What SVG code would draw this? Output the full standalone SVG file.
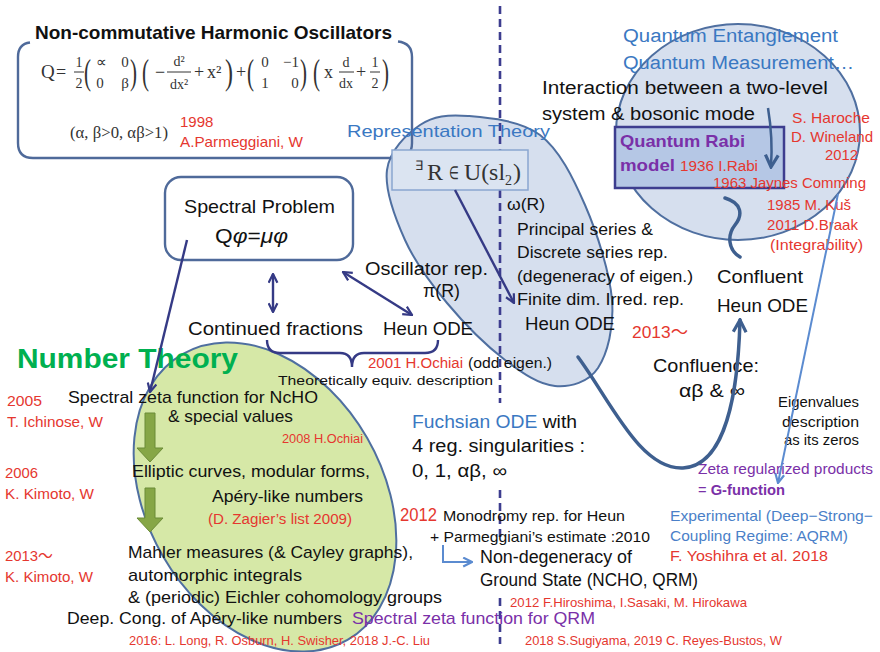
<svg xmlns="http://www.w3.org/2000/svg" width="880" height="652" viewBox="0 0 880 652">
<style>
text{font-family:"Liberation Sans",Arial,"Noto Sans CJK JP",sans-serif;fill:#111}
.r{fill:#e5372f}
.bl{fill:#3a78c2}
.pu{fill:#7a30a8}
.gr{fill:#00b050;font-weight:bold}
.m{font-family:"Liberation Serif","Times New Roman",serif;fill:#333}
.bp{font-family:"Liberation Serif","Times New Roman",serif;fill:#333;font-size:36px}
.fl{stroke:#333;stroke-width:1}
.blob{fill:#d6dfee;stroke:#4f6fa0;stroke-width:2}
.box{fill:none;stroke:#4f6a9a;stroke-width:2.4}
.nv{fill:none;stroke:#353a85;stroke-width:2.4}
.th{fill:none;stroke:#3e5f8f;stroke-width:3.5;stroke-linecap:round}
.lb{fill:none;stroke:#5b8bd0;stroke-width:2}
.dash{stroke:#3d3d8f;stroke-width:2.6;stroke-dasharray:8 5}
.garrow{fill:#86a646;stroke:#6b8b36;stroke-width:1}
.xb{fill:#4a7fc8}
</style>
<defs>
<marker id="an" viewBox="0 0 10 10" refX="9" refY="5" markerWidth="11" markerHeight="11" markerUnits="userSpaceOnUse" orient="auto-start-reverse"><path d="M1,1 L9,5 L1,9" fill="none" stroke="#353a85" stroke-width="2"/></marker>
<marker id="at" viewBox="0 0 10 10" refX="8.5" refY="5" markerWidth="16" markerHeight="16" markerUnits="userSpaceOnUse" orient="auto"><path d="M1,1 L8.5,5 L1,9" fill="none" stroke="#3e5f8f" stroke-width="2"/></marker>
<marker id="al" viewBox="0 0 10 10" refX="9" refY="5" markerWidth="11" markerHeight="11" markerUnits="userSpaceOnUse" orient="auto"><path d="M1,1 L9,5 L1,9" fill="none" stroke="#5b8bd0" stroke-width="2"/></marker>
</defs>
<rect width="880" height="652" fill="#fff"/>

<!-- background shapes -->
<g id="number-theory-ellipse">
<ellipse cx="265" cy="497" rx="165" ry="118" transform="rotate(60 265 497)" fill="#d6e8a7" stroke="#4f6fa0" stroke-width="2"/>
</g>
<g id="representation-theory">
<path class="blob" d="M468,116 C488,117.7 520.5,120.2 540,135 C559.5,149.8 573,177.5 585,205 C597,232.5 609.8,272.8 612,300 C614.2,327.2 607.5,353.7 598,368 C588.5,382.3 570.5,387.3 555,386 C539.5,384.7 523,373.8 505,360 C487,346.2 463.7,323 447,303 C430.3,283 415,262.2 405,240 C395,217.8 384.5,189.2 387,170 C389.5,150.8 406.5,134 420,125 C433.5,116 448,114.3 468,116 Z"/>
</g>
<g id="quantum-circle">
<ellipse class="blob" cx="738" cy="132" rx="122" ry="108"/>
</g>

<!-- Non-commutative harmonic oscillators box -->
<g id="ncho">
<path class="box" d="M30,42.5 Q18,44 18,57 L18,143 Q18,158 33,158 L397,158 Q412,158 412,143 L412,57 Q412,43 398,41.5"/>
<text x="35" y="39" font-size="19" font-weight="bold" textLength="357" lengthAdjust="spacingAndGlyphs">Non-commutative Harmonic Oscillators</text>
<text class="m" x="41" y="78" font-size="19">Q</text>
<text class="m" x="56" y="78" font-size="18">=</text>
<text class="m" x="79" y="67" font-size="14" text-anchor="middle">1</text>
<line class="fl" x1="74" y1="72" x2="84" y2="72"/>
<text class="m" x="79" y="88" font-size="14" text-anchor="middle">2</text>
<text class="bp" x="84" y="84" textLength="7" lengthAdjust="spacingAndGlyphs">(</text>
<text class="m" x="101" y="67" font-size="15" text-anchor="middle">∝</text>
<text class="m" x="125" y="67" font-size="15" text-anchor="middle">0</text>
<text class="m" x="100" y="88" font-size="15" text-anchor="middle">0</text>
<text class="m" x="125" y="88" font-size="15" text-anchor="middle">β</text>
<text class="bp" x="130" y="84" textLength="7" lengthAdjust="spacingAndGlyphs">)</text>
<text class="bp" x="142" y="84" textLength="7" lengthAdjust="spacingAndGlyphs">(</text>
<text class="m" x="160" y="78" font-size="18" text-anchor="middle">−</text>
<text class="m" x="179" y="66" font-size="14" text-anchor="middle">d²</text>
<line class="fl" x1="167" y1="72" x2="191" y2="72"/>
<text class="m" x="179" y="89" font-size="14" text-anchor="middle">dx²</text>
<text class="m" x="199" y="78" font-size="18" text-anchor="middle">+</text>
<text class="m" x="207" y="78" font-size="18">x²</text>
<text class="bp" x="225" y="84" textLength="8" lengthAdjust="spacingAndGlyphs">)</text>
<text class="m" x="241" y="78" font-size="18" text-anchor="middle">+</text>
<text class="bp" x="247" y="84" textLength="7" lengthAdjust="spacingAndGlyphs">(</text>
<text class="m" x="265" y="67" font-size="15" text-anchor="middle">0</text>
<text class="m" x="291" y="67" font-size="15" text-anchor="middle">−1</text>
<text class="m" x="265" y="88" font-size="15" text-anchor="middle">1</text>
<text class="m" x="295" y="88" font-size="15" text-anchor="middle">0</text>
<text class="bp" x="300" y="84" textLength="7" lengthAdjust="spacingAndGlyphs">)</text>
<text class="bp" x="313" y="84" textLength="7" lengthAdjust="spacingAndGlyphs">(</text>
<text class="m" x="324" y="78" font-size="18">x</text>
<text class="m" x="346" y="67" font-size="14" text-anchor="middle">d</text>
<line class="fl" x1="339" y1="72" x2="354" y2="72"/>
<text class="m" x="346" y="88" font-size="14" text-anchor="middle">dx</text>
<text class="m" x="361" y="78" font-size="18" text-anchor="middle">+</text>
<text class="m" x="375" y="67" font-size="14" text-anchor="middle">1</text>
<line class="fl" x1="370" y1="72" x2="380" y2="72"/>
<text class="m" x="375" y="88" font-size="14" text-anchor="middle">2</text>
<text class="bp" x="382" y="84" textLength="7" lengthAdjust="spacingAndGlyphs">)</text>
<text class="m" x="70" y="138" font-size="17" textLength="98" lengthAdjust="spacingAndGlyphs">(α, β&gt;0, αβ&gt;1)</text>
<text class="r" x="180" y="127" font-size="15">1998</text>
<text class="r" x="180" y="147" font-size="15" textLength="123" lengthAdjust="spacingAndGlyphs">A.Parmeggiani, W</text>
</g>

<!-- dashed divider -->
<g id="divider">
<line class="dash" x1="500" y1="6" x2="500" y2="150"/>
<line class="dash" x1="500" y1="190" x2="500" y2="403"/>
<line class="dash" x1="500" y1="490" x2="500" y2="542"/>
<line class="dash" x1="500" y1="598" x2="500" y2="644"/>
</g>

<g id="rep-box">
<rect x="392" y="150" width="136" height="40" fill="#dbe4f1" stroke="#8aa6d0" stroke-width="1.5"/>
<text class="m" x="415" y="170" font-size="13">∃</text>
<text class="m" x="427" y="180" font-size="24">R</text>
<text class="m" x="449" y="179" font-size="18" textLength="10" lengthAdjust="spacingAndGlyphs">∈</text>
<text class="m" x="464" y="180" font-size="24" textLength="41" lengthAdjust="spacingAndGlyphs">U(sl</text>
<text class="m" x="505" y="185" font-size="14">2</text>
<text class="m" x="513" y="180" font-size="24">)</text>
</g>

<g id="rep-labels">
<text class="bl" x="347" y="137" font-size="17" textLength="203" lengthAdjust="spacingAndGlyphs">Representation Theory</text>
<text x="507" y="210" font-size="17" textLength="38" lengthAdjust="spacingAndGlyphs">ω(R)</text>
<text x="517" y="235" font-size="16" textLength="136" lengthAdjust="spacingAndGlyphs">Principal series &amp;</text>
<text x="517" y="258" font-size="16" textLength="151" lengthAdjust="spacingAndGlyphs">Discrete series rep.</text>
<text x="517" y="282" font-size="16" textLength="176" lengthAdjust="spacingAndGlyphs">(degeneracy of eigen.)</text>
<text x="517" y="305" font-size="16" textLength="167" lengthAdjust="spacingAndGlyphs">Finite dim. Irred. rep.</text>
<text x="525" y="330" font-size="18" textLength="90" lengthAdjust="spacingAndGlyphs">Heun ODE</text>
</g>

<g id="quantum-labels">
<text class="bl" x="623" y="42" font-size="18" textLength="215" lengthAdjust="spacingAndGlyphs">Quantum Entanglement</text>
<text class="bl" x="623" y="69" font-size="18" textLength="231" lengthAdjust="spacingAndGlyphs">Quantum Measurement…</text>
<text x="542" y="94" font-size="18" textLength="286" lengthAdjust="spacingAndGlyphs">Interaction between a two-level</text>
<text x="542" y="120" font-size="18" textLength="213" lengthAdjust="spacingAndGlyphs">system &amp; bosonic mode</text>
<text class="r" x="792" y="123" font-size="15" textLength="78" lengthAdjust="spacingAndGlyphs">S. Haroche</text>
<text class="r" x="791" y="142" font-size="15" textLength="82" lengthAdjust="spacingAndGlyphs">D. Wineland</text>
<text class="r" x="825" y="160" font-size="15" textLength="33" lengthAdjust="spacingAndGlyphs">2012</text>
</g>

<g id="rabi">
<rect x="615" y="127" width="169" height="61" fill="#b5c7e5" stroke="#3d3d8f" stroke-width="2.5"/>
<text class="pu" x="620" y="147" font-size="17" font-weight="bold" textLength="125" lengthAdjust="spacingAndGlyphs">Quantum Rabi</text>
<text class="pu" x="620" y="171" font-size="17" font-weight="bold" textLength="55" lengthAdjust="spacingAndGlyphs">model</text>
<text class="r" x="680" y="171" font-size="14" textLength="78" lengthAdjust="spacingAndGlyphs">1936 I.Rabi</text>
</g>

<g id="rabi-history">
<text class="r" x="713" y="188" font-size="15" textLength="153" lengthAdjust="spacingAndGlyphs">1963 Jaynes Comming</text>
<text class="r" x="767" y="210" font-size="15" textLength="84" lengthAdjust="spacingAndGlyphs">1985 M. Kuš</text>
<text class="r" x="767" y="230" font-size="15" textLength="91" lengthAdjust="spacingAndGlyphs">2011 D.Braak</text>
<text class="r" x="770" y="250" font-size="15" textLength="93" lengthAdjust="spacingAndGlyphs">(Integrability)</text>
</g>

<g id="spectral">
<rect x="165" y="177" width="188" height="83" rx="16" class="box"/>
<text x="184" y="213" font-size="19" textLength="151" lengthAdjust="spacingAndGlyphs">Spectral Problem</text>
<text x="215" y="243" font-size="20" textLength="73" lengthAdjust="spacingAndGlyphs">Q<tspan font-style="italic">φ</tspan>=<tspan font-style="italic">μφ</tspan></text>
</g>

<g id="oscillator-rep">
<text x="365" y="275" font-size="18" textLength="123" lengthAdjust="spacingAndGlyphs">Oscillator rep.</text>
<text x="423" y="297" font-size="18" textLength="37" lengthAdjust="spacingAndGlyphs">π(R)</text>
</g>
<g id="continued-fractions">
<text x="188" y="335" font-size="18" textLength="175" lengthAdjust="spacingAndGlyphs">Continued fractions</text>
</g>
<g id="heun-ode">
<text x="383" y="335" font-size="18" textLength="90" lengthAdjust="spacingAndGlyphs">Heun ODE</text>
</g>
<g id="equiv">
<text class="r" x="368" y="368" font-size="14" textLength="95" lengthAdjust="spacingAndGlyphs">2001 H.Ochiai</text>
<text x="468" y="368" font-size="14" textLength="84" lengthAdjust="spacingAndGlyphs">(odd eigen.)</text>
<text x="278" y="385" font-size="13.5" textLength="215" lengthAdjust="spacingAndGlyphs">Theoretically equiv. description</text>
</g>

<g id="confluent">
<text class="r" x="632" y="338" font-size="17" textLength="56" lengthAdjust="spacingAndGlyphs">2013～</text>
<text x="717" y="283" font-size="19" textLength="86" lengthAdjust="spacingAndGlyphs">Confluent</text>
<text x="717" y="312" font-size="19" textLength="91" lengthAdjust="spacingAndGlyphs">Heun ODE</text>
<text x="653" y="372" font-size="19" textLength="106" lengthAdjust="spacingAndGlyphs">Confluence:</text>
<text x="679" y="397" font-size="19" textLength="66" lengthAdjust="spacingAndGlyphs">αβ &amp; ∞</text>
</g>

<g id="eigen">
<text x="859" y="407" font-size="14" text-anchor="end" textLength="81" lengthAdjust="spacingAndGlyphs">Eigenvalues</text>
<text x="859" y="427" font-size="14" text-anchor="end" textLength="77" lengthAdjust="spacingAndGlyphs">description</text>
<text x="859" y="445" font-size="14" text-anchor="end" textLength="75" lengthAdjust="spacingAndGlyphs">as its zeros</text>
</g>
<g id="g-function">
<text class="pu" x="698" y="474" font-size="15" textLength="175" lengthAdjust="spacingAndGlyphs">Zeta regularized products</text>
<text class="pu" x="698" y="495" font-size="15" textLength="87" lengthAdjust="spacingAndGlyphs">= <tspan font-weight="bold" class="pu">G-function</tspan></text>
</g>
<g id="experimental">
<text class="xb" x="670" y="521" font-size="15" textLength="203" lengthAdjust="spacingAndGlyphs">Experimental (Deep−Strong−</text>
<text class="xb" x="670" y="541" font-size="15" textLength="178" lengthAdjust="spacingAndGlyphs">Coupling Regime: AQRM)</text>
<text class="r" x="670" y="561" font-size="15" textLength="158" lengthAdjust="spacingAndGlyphs">F. Yoshihra et al. 2018</text>
</g>

<g id="fuchsian">
<text x="412" y="428" font-size="18" textLength="165" lengthAdjust="spacingAndGlyphs"><tspan class="bl">Fuchsian ODE</tspan> with</text>
<text x="412" y="452" font-size="18" textLength="173" lengthAdjust="spacingAndGlyphs">4 reg. singularities :</text>
<text x="412" y="477" font-size="18" textLength="95" lengthAdjust="spacingAndGlyphs">0, 1, αβ, ∞</text>
</g>

<g id="monodromy">
<text class="r" x="400" y="521" font-size="18" textLength="37" lengthAdjust="spacingAndGlyphs">2012</text>
<text x="443" y="521" font-size="15" textLength="182" lengthAdjust="spacingAndGlyphs">Monodromy rep. for Heun</text>
<text x="430" y="542" font-size="15" textLength="220" lengthAdjust="spacingAndGlyphs">+ Parmeggiani’s  estimate :2010</text>
</g>
<g id="non-degeneracy">
<text x="480" y="563" font-size="18" textLength="152" lengthAdjust="spacingAndGlyphs">Non-degeneracy of</text>
<text x="480" y="586" font-size="18" textLength="218" lengthAdjust="spacingAndGlyphs">Ground State (NCHO, QRM)</text>
<text class="r" x="510" y="607" font-size="13" textLength="237" lengthAdjust="spacingAndGlyphs">2012 F.Hiroshima, I.Sasaki, M. Hirokawa</text>
</g>
<g id="spectral-zeta-qrm">
<text class="pu" x="352" y="624" font-size="17" textLength="243" lengthAdjust="spacingAndGlyphs">Spectral zeta function for QRM</text>
<text class="r" x="525" y="645" font-size="13" textLength="257" lengthAdjust="spacingAndGlyphs">2018 S.Sugiyama, 2019  C. Reyes-Bustos, W</text>
</g>

<g id="number-theory">
<text class="gr" x="17" y="368" font-size="27" textLength="221" lengthAdjust="spacingAndGlyphs">Number Theory</text>
<text class="r" x="7" y="406" font-size="15" textLength="35" lengthAdjust="spacingAndGlyphs">2005</text>
<text class="r" x="7" y="427" font-size="15" textLength="96" lengthAdjust="spacingAndGlyphs">T. Ichinose, W</text>
<text class="r" x="5" y="478" font-size="15" textLength="33" lengthAdjust="spacingAndGlyphs">2006</text>
<text class="r" x="5" y="499" font-size="15" textLength="89" lengthAdjust="spacingAndGlyphs">K. Kimoto, W</text>
<text class="r" x="5" y="561" font-size="15" textLength="48" lengthAdjust="spacingAndGlyphs">2013～</text>
<text class="r" x="5" y="582" font-size="15" textLength="88" lengthAdjust="spacingAndGlyphs">K. Kimoto, W</text>
<text x="68" y="403" font-size="17" textLength="250" lengthAdjust="spacingAndGlyphs">Spectral zeta function for NcHO</text>
<text x="168" y="422" font-size="17" textLength="125" lengthAdjust="spacingAndGlyphs">&amp; special values</text>
<text class="r" x="282" y="443" font-size="12" textLength="81" lengthAdjust="spacingAndGlyphs">2008 H.Ochiai</text>
<text x="132" y="477" font-size="17" textLength="238" lengthAdjust="spacingAndGlyphs">Elliptic curves, modular forms,</text>
<text x="212" y="502" font-size="17" textLength="151" lengthAdjust="spacingAndGlyphs">Apéry-like numbers</text>
<text class="r" x="208" y="524" font-size="14" textLength="144" lengthAdjust="spacingAndGlyphs">(D. Zagier’s list 2009)</text>
<text x="128" y="558" font-size="17" textLength="285" lengthAdjust="spacingAndGlyphs">Mahler measures (&amp; Cayley graphs),</text>
<text x="128" y="581" font-size="17" textLength="174" lengthAdjust="spacingAndGlyphs">automorphic integrals</text>
<text x="128" y="603" font-size="17" textLength="314" lengthAdjust="spacingAndGlyphs">&amp; (periodic) Eichler cohomology groups</text>
<text x="67" y="624" font-size="17" textLength="275" lengthAdjust="spacingAndGlyphs">Deep. Cong. of Apéry-like numbers</text>
<text class="r" x="129" y="645" font-size="13" textLength="301" lengthAdjust="spacingAndGlyphs">2016: L. Long, R. Osburn, H. Swisher, 2018  J.-C. Liu</text>
<polygon class="garrow" points="145,413 155,413 155,448 163,448 150,462 137,448 145,448"/>
<polygon class="garrow" points="145,488 155,488 155,518 163,518 150,532 137,518 145,518"/>
</g>

<!-- connectors -->
<g id="connectors">
<line class="nv" x1="187" y1="240" x2="150" y2="392" marker-end="url(#an)"/>
<line class="nv" x1="273" y1="274" x2="273" y2="312" marker-start="url(#an)" marker-end="url(#an)"/>
<line class="nv" x1="343" y1="272" x2="412" y2="315" marker-start="url(#an)" marker-end="url(#an)"/>
<line class="nv" x1="455" y1="190" x2="514" y2="303" marker-end="url(#an)"/>
<path class="nv" d="M267,340 Q267,353 280,353 L340,353 Q352,353 352,367 Q352,353 364,353 L425,353 Q438,353 438,340"/>
<path class="th" d="M578,357 C610,400 640,470 683,468 C725,466 738,395 740,320" marker-end="url(#at)"/>
<path class="th" d="M725,198 C742,203 743,215 735,225 C727,235 728,250 740,257"/>
<path fill="none" stroke="#3e5f8f" stroke-width="2.5" d="M768,108 Q773,138 771,167" marker-end="url(#at)"/>
<line class="lb" x1="838" y1="194" x2="778" y2="483" marker-end="url(#al)"/>
<path class="lb" stroke-width="2.5" d="M443,545 L443,562 L472,562" marker-end="url(#al)"/>
</g>
</svg>
